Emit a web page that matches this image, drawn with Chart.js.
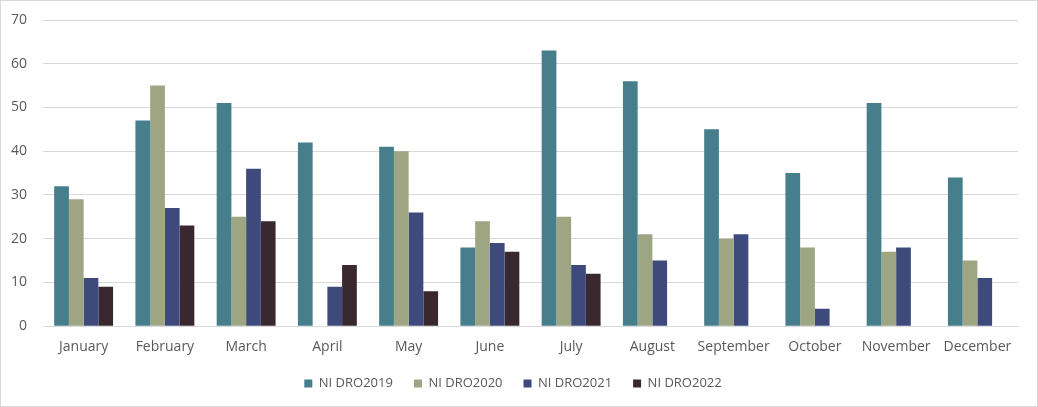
<!DOCTYPE html>
<html><head><meta charset="utf-8">
<script src="https://cdn.jsdelivr.net/npm/chart.js@4/dist/chart.umd.min.js"></script>
<style>
html,body{margin:0;padding:0;background:#fff;}
#wrap{position:absolute;left:0;top:0;width:1036px;height:405px;border:1px solid #d9d9d9;}
</style></head><body>
<div id="wrap"><canvas id="c"></canvas></div>
<script>
const categories = ["January","February","March","April","May","June","July","August","September","October","November","December"];
const seriesNames = ["NI DRO2019","NI DRO2020","NI DRO2021","NI DRO2022"];
const dro2019 = [32,47,51,42,41,18,63,56,45,35,51,34];
const dro2020 = [29,55,25,null,40,24,25,21,20,18,17,15];
const dro2021 = [11,27,36,9,26,19,14,15,21,4,18,11];
const dro2022 = [9,23,24,14,8,17,12,null,null,null,null,null];
const colors = ["#467e8c","#9da583","#3e4a7c","#3a2831"];
const yTicks = [0,10,20,30,40,50,60,70];

const data = {
  labels: categories,
  datasets: [dro2019,dro2020,dro2021,dro2022].map((d,i)=>({
    label: seriesNames[i], data: d, backgroundColor: colors[i],
    categoryPercentage: 0.725, barPercentage: 1.0, borderWidth: 0
  }))
};
Chart.defaults.font.family = "'Open Sans', 'Liberation Sans', sans-serif";
Chart.defaults.color = "#595959";
new Chart(document.getElementById('c'), {
  type: 'bar',
  data,
  options: {
    responsive: true, maintainAspectRatio: false, animation: false,
    layout: { padding: { left: 7, right: 19, top: 19, bottom: 6 } },
    plugins: {
      legend: {
        position: 'bottom',
        labels: { boxWidth: 8, boxHeight: 8, padding: 21, font: { size: 13 }, color: "#595959" }
      },
      tooltip: { enabled: false }
    },
    scales: {
      x: {
        grid: { display: false, drawTicks: false },
        border: { color: "#d9d9d9" },
        afterFit: s => { s.height = s.height - 11; s._computeLabelArea = () => undefined; },
        ticks: { font: { size: 14 }, color: "#595959", padding: 12, maxRotation: 0 }
      },
      y: {
        min: 0, max: 70,
        afterFit: s => { s.width = 35; s.paddingTop = 0; s.paddingBottom = 0; },
        afterBuildTicks: s => { s.ticks = yTicks.map(v=>({value:v})); },
        grid: { color: "#d9d9d9", drawTicks: false },
        border: { display: false },
        ticks: { font: { size: 14 }, color: "#595959", padding: 16 }
      }
    }
  }
});
</script>
</body></html>
